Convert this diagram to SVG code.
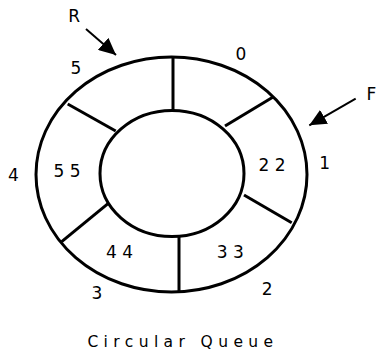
<svg xmlns="http://www.w3.org/2000/svg" width="380" height="356" viewBox="0 0 380 356">
<style>
.ring{fill:none;stroke:#000;stroke-width:3}
.div{stroke:#000;stroke-width:3;fill:none}
.arr{stroke:#000;stroke-width:2;fill:none;marker-end:url(#ah)}
text{font-family:"DejaVu Sans",Verdana,sans-serif;font-size:17px;fill:#000}
.sp{letter-spacing:5.5px}
.cap{font-size:15.5px;letter-spacing:5.4px}
</style>
<defs>
<marker id="ah" markerUnits="userSpaceOnUse" markerWidth="18" markerHeight="16" refX="17" refY="8" orient="auto">
<path d="M0,0 L17,8 L0,16 z" fill="#000"/>
</marker>
</defs>
<rect width="380" height="356" fill="#fff"/>
<g id="queue">
<ellipse class="ring" cx="171.5" cy="174.5" rx="135.5" ry="117.5"/>
<ellipse class="ring" cx="172" cy="173.5" rx="72" ry="63"/>
</g>
<g id="dividers">
<line class="div" x1="173" y1="57" x2="173" y2="111"/>
<line class="div" x1="272.7" y1="97.3" x2="225" y2="126"/>
<line class="div" x1="244" y1="195" x2="291.7" y2="222.7"/>
<line class="div" x1="179" y1="236" x2="179" y2="292"/>
<line class="div" x1="108.3" y1="203.3" x2="61.7" y2="241.7"/>
<line class="div" x1="67.7" y1="104" x2="115.7" y2="131"/>
</g>
<g id="connectors">
<line class="arr" x1="86" y1="29" x2="116" y2="55"/>
<line class="arr" x1="355.7" y1="98.7" x2="309.3" y2="125.3"/>
</g>
<g id="labels">
<text x="68.3" y="21.5">R</text>
<text x="366.5" y="99.5">F</text>
<text x="235.5" y="60">0</text>
<text x="319.3" y="169">1</text>
<text x="261.7" y="295">2</text>
<text x="91.5" y="299">3</text>
<text x="8" y="180.5">4</text>
<text x="70.5" y="74">5</text>
<text class="sp" x="53.5" y="177">55</text>
<text class="sp" x="258.5" y="171">22</text>
<text class="sp" x="216.7" y="258">33</text>
<text class="sp" x="106" y="258">44</text>
<text class="cap" x="87.4" y="347">Circular Queue</text>
</g>
</svg>
